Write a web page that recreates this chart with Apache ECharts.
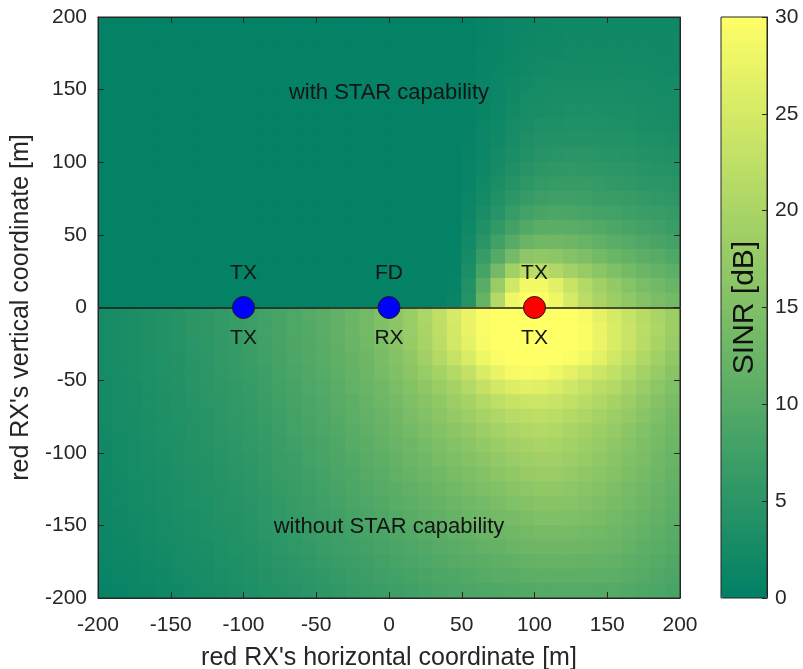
<!DOCTYPE html>
<html><head><meta charset="utf-8">
<script src="https://cdn.jsdelivr.net/npm/echarts@6/dist/echarts.min.js"></script>
<style>html,body{margin:0;padding:0;background:#fff}#c{width:803px;height:669px}</style>
</head><body><div id="c"></div>
<script>
// cell centres (m)
const xCells = [-195,-185,-175,-165,-155,-145,-135,-125,-115,-105,-95,-85,-75,-65,-55,-45,-35,-25,-15,-5,5,15,25,35,45,55,65,75,85,95,105,115,125,135,145,155,165,175,185,195];
const yCells = [195,185,175,165,155,145,135,125,115,105,95,85,75,65,55,45,35,25,15,5,-5,-15,-25,-35,-45,-55,-65,-75,-85,-95,-105,-115,-125,-135,-145,-155,-165,-175,-185,-195];

// SINR [dB], upper half: with STAR capability (rows y=195 ... 5)
const sinrUpper = [
 [0.5,0.5,0.5,0.5,0.5,0.5,0.5,0.5,0.5,0.5,0.5,0.5,0.5,0.5,0.5,0.5,0.5,0.5,0.5,0.5,0.5,0.5,0.5,0.5,0.5, 0.5,0.8,1,1.3,1.5,1.7,1.8,1.8,1.8,1.8,1.8,1.8,1.8,1.8,1.8],
 [0.5,0.5,0.5,0.5,0.5,0.5,0.5,0.5,0.5,0.5,0.5,0.5,0.5,0.5,0.5,0.5,0.5,0.5,0.5,0.5,0.5,0.5,0.5,0.5,0.5, 0.5,0.8,1,1.4,1.6,1.8,1.9,2,2,2,2,2,2,2,2],
 [0.5,0.5,0.5,0.5,0.5,0.5,0.5,0.5,0.5,0.5,0.5,0.5,0.5,0.5,0.5,0.5,0.5,0.5,0.5,0.5,0.5,0.5,0.5,0.5,0.5, 0.5,0.9,1.1,1.5,1.8,2,2.1,2.2,2.2,2.2,2.2,2.2,2.2,2.1,2],
 [0.5,0.5,0.5,0.5,0.5,0.5,0.5,0.5,0.5,0.5,0.5,0.5,0.5,0.5,0.5,0.5,0.5,0.5,0.5,0.5,0.5,0.5,0.5,0.5,0.5, 0.5,0.9,1.2,1.6,2,2.2,2.4,2.4,2.4,2.4,2.4,2.4,2.3,2.2,2.1],
 [0.5,0.5,0.5,0.5,0.5,0.5,0.5,0.5,0.5,0.5,0.5,0.5,0.5,0.5,0.5,0.5,0.5,0.5,0.5,0.5,0.5,0.5,0.5,0.5,0.5, 0.5,1,1.3,1.8,2.2,2.5,2.6,2.7,2.7,2.7,2.7,2.6,2.5,2.4,2.3],
 [0.5,0.5,0.5,0.5,0.5,0.5,0.5,0.5,0.5,0.5,0.5,0.5,0.5,0.5,0.5,0.5,0.5,0.5,0.5,0.5,0.5,0.5,0.5,0.5,0.5, 0.6,1,1.4,2,2.5,2.8,3,3,3,3,3,2.9,2.8,2.7,2.5],
 [0.5,0.5,0.5,0.5,0.5,0.5,0.5,0.5,0.5,0.5,0.5,0.5,0.5,0.5,0.5,0.5,0.5,0.5,0.5,0.5,0.5,0.5,0.5,0.5,0.5, 0.6,1.1,1.6,2.2,2.8,3.1,3.3,3.4,3.4,3.4,3.3,3.2,3.1,2.9,2.7],
 [0.5,0.5,0.5,0.5,0.5,0.5,0.5,0.5,0.5,0.5,0.5,0.5,0.5,0.5,0.5,0.5,0.5,0.5,0.5,0.5,0.5,0.5,0.5,0.5,0.5, 0.7,1.2,1.8,2.5,3.1,3.5,3.7,3.8,3.8,3.8,3.7,3.5,3.3,3.1,2.9],
 [0.5,0.5,0.5,0.5,0.5,0.5,0.5,0.5,0.5,0.5,0.5,0.5,0.5,0.5,0.5,0.5,0.5,0.5,0.5,0.5,0.5,0.5,0.5,0.5,0.5, 0.7,1.3,2,2.8,3.5,4,4.2,4.3,4.3,4.2,4.1,3.9,3.7,3.5,3.3],
 [0.5,0.5,0.5,0.5,0.5,0.5,0.5,0.5,0.5,0.5,0.5,0.5,0.5,0.5,0.5,0.5,0.5,0.5,0.5,0.5,0.5,0.5,0.5,0.5,0.5, 0.8,1.5,2.3,3.2,4,4.6,4.8,4.9,4.9,4.8,4.6,4.4,4.2,4,3.8],
 [0.5,0.5,0.5,0.5,0.5,0.5,0.5,0.5,0.5,0.5,0.5,0.5,0.5,0.5,0.5,0.5,0.5,0.5,0.5,0.5,0.5,0.5,0.5,0.5,0.5, 0.9,1.7,2.7,3.7,4.6,5.2,5.5,5.6,5.5,5.4,5.2,5,4.7,4.5,4.3],
 [0.5,0.5,0.5,0.5,0.5,0.5,0.5,0.5,0.5,0.5,0.5,0.5,0.5,0.5,0.5,0.5,0.5,0.5,0.5,0.5,0.5,0.5,0.5,0.5,0.5, 1,2,3.2,4.4,5.4,6,6.3,6.4,6.3,6.1,5.9,5.6,5.3,5,4.8],
 [0.5,0.5,0.5,0.5,0.5,0.5,0.5,0.5,0.5,0.5,0.5,0.5,0.5,0.5,0.5,0.5,0.5,0.5,0.5,0.5,0.5,0.5,0.5,0.5,0.5, 1.2,2.4,3.8,5.2,6.4,7.1,7.4,7.4,7.2,6.9,6.6,6.3,6,5.7,5.4],
 [0.5,0.5,0.5,0.5,0.5,0.5,0.5,0.5,0.5,0.5,0.5,0.5,0.5,0.5,0.5,0.5,0.5,0.5,0.5,0.5,0.5,0.5,0.5,0.5,0.5, 1.4,3,4.6,6.3,7.7,8.6,8.9,8.8,8.5,8.1,7.7,7.3,6.9,6.5,6.2],
 [0.5,0.5,0.5,0.5,0.5,0.5,0.5,0.5,0.5,0.5,0.5,0.5,0.5,0.5,0.5,0.5,0.5,0.5,0.5,0.5,0.5,0.5,0.5,0.5,0.5, 1.8,3.8,5.8,7.9,9.6,10.6,10.8,10.6,10.2,9.6,9,8.4,7.9,7.4,6.9],
 [0.5,0.5,0.5,0.5,0.5,0.5,0.5,0.5,0.5,0.5,0.5,0.5,0.5,0.5,0.5,0.5,0.5,0.5,0.5,0.5,0.5,0.5,0.5,0.5,0.5, 2.2,4.8,7.5,10.2,12.4,13.3,13.3,12.8,12.2,11.4,10.6,9.9,9.2,8.6,8],
 [0.5,0.5,0.5,0.5,0.5,0.5,0.5,0.5,0.5,0.5,0.5,0.5,0.5,0.5,0.5,0.5,0.5,0.5,0.5,0.5,0.5,0.5,0.5,0.5,0.6, 2.7,6.3,10,13.8,16.5,17,16.6,15.7,14.7,13.6,12.6,11.7,10.8,10.1,9.4],
 [0.5,0.5,0.5,0.5,0.5,0.5,0.5,0.5,0.5,0.5,0.5,0.5,0.5,0.5,0.5,0.5,0.5,0.5,0.5,0.5,0.5,0.5,0.5,0.5,0.7, 3.3,8.2,13.5,18.8,22,22,20.8,19.2,17.6,16.2,14.9,13.7,12.6,11.7,10.9],
 [0.5,0.5,0.5,0.5,0.5,0.5,0.5,0.5,0.5,0.5,0.5,0.5,0.5,0.5,0.5,0.5,0.5,0.5,0.5,0.5,0.5,0.5,0.5,0.5,0.8, 4,10.5,18,24.5,28.5,28.5,26.5,23.5,21,19,17.3,15.8,14.5,13.4,12.4],
 [0.5,0.5,0.5,0.5,0.5,0.5,0.5,0.5,0.5,0.5,0.5,0.5,0.5,0.5,0.5,0.5,0.5,0.5,0.5,0.5,0.5,0.5,0.5,0.5,1, 4.5,12,21,28,30,30,28,25,22,20,18.5,17,15.5,14.5,13.5]
];

// SINR [dB], lower half: without STAR capability (rows y=-5 ... -195)
const sinrLower = [
 [2.5,2.9,3.3,3.7,4.1,4.5,5,5.5,6,6.5,7,7.7,8.5,9.2,9.9,10.7,11.6,12.6,13.7,15,16.5,18.2,20.2,22.5,25,27.5,29.5,30,30,30,30,30,30,29,27,25,23.3,21.6,20,18.5],
 [2.5,2.9,3.3,3.7,4.1,4.5,5,5.5,6,6.5,7,7.7,8.4,9.1,9.8,10.6,11.5,12.5,13.6,14.9,16.3,18,20,22.3,24.8,27.5,29.5,30,30,30,30,30,30,29.5,27.5,25.5,23.7,21.9,20.2,18.5],
 [2.5,2.9,3.3,3.6,4,4.4,4.9,5.4,5.9,6.4,6.9,7.6,8.3,9,9.7,10.5,11.4,12.4,13.4,14.6,16,17.7,19.7,22,24.5,27,29,30,30,30,30,30,30,29.5,27.7,25.5,23.6,21.7,19.8,18],
 [2.5,2.9,3.2,3.6,3.9,4.3,4.8,5.3,5.8,6.3,6.8,7.5,8.2,8.9,9.6,10.3,11.2,12.1,13.1,14.2,15.5,17.1,19,21,23.2,25.5,28,29.5,30,30,30,30,29.5,28.5,26.7,24.5,22.6,20.7,18.8,17],
 [2.5,2.8,3.2,3.5,3.9,4.2,4.7,5.2,5.6,6.1,6.6,7.3,8,8.7,9.4,10.1,11,11.9,12.8,13.9,15,16.4,17.9,19.5,21.2,23,25.5,27.5,28.8,29.3,29,28,26.8,25.5,24.2,22.7,21,19.3,17.6,16],
 [2.4,2.7,3.1,3.4,3.8,4.1,4.6,5,5.5,5.9,6.4,7.1,7.8,8.4,9.1,9.8,10.6,11.5,12.4,13.3,14.3,15.5,16.8,18.1,19.5,21,23,24.8,26,26.5,26.3,25.5,24.4,23.2,22,21,19.5,18,16.5,15],
 [2.4,2.7,3,3.4,3.7,4,4.4,4.9,5.3,5.8,6.2,6.9,7.5,8.2,8.8,9.5,10.3,11.1,12,12.9,13.8,14.9,16,17.1,18.3,19.5,21,22.3,23.3,23.9,24,23.5,22.7,21.7,20.7,19.6,18.3,16.9,15.6,14.3],
 [2.3,2.6,2.9,3.3,3.6,3.9,4.3,4.7,5.2,5.6,6,6.6,7.3,7.9,8.6,9.2,10,10.8,11.6,12.4,13.3,14.3,15.3,16.3,17.3,18.3,19.5,20.6,21.4,22,22.3,21.9,21.2,20.3,19.4,18.5,17.3,16.1,14.9,13.7],
 [2.2,2.5,2.8,3.2,3.5,3.8,4.2,4.6,5,5.4,5.8,6.4,7,7.7,8.3,8.9,9.7,10.4,11.2,12,12.8,13.7,14.6,15.5,16.4,17.3,18.3,19.3,20.1,20.7,21,20.7,20,19.2,18.4,17.5,16.4,15.3,14.2,13.2],
 [2.1,2.4,2.7,3.1,3.4,3.7,4.1,4.5,4.8,5.2,5.6,6.2,6.8,7.4,8,8.6,9.3,10.1,10.8,11.6,12.3,13.1,13.9,14.8,15.6,16.4,17.3,18.2,19,19.6,20,19.8,19.2,18.4,17.6,16.8,15.8,14.8,13.8,12.8],
 [2,2.3,2.6,3,3.3,3.6,4,4.3,4.7,5,5.4,6,6.6,7.1,7.7,8.3,9,9.7,10.4,11.1,11.8,12.6,13.3,14.1,14.8,15.6,16.4,17.2,18,18.6,19,18.8,18.3,17.6,16.9,16.1,15.2,14.3,13.3,12.4],
 [1.9,2.2,2.5,2.8,3.1,3.4,3.8,4.1,4.5,4.8,5.2,5.8,6.3,6.9,7.4,8,8.7,9.3,10,10.6,11.3,12,12.7,13.4,14.1,14.8,15.5,16.3,17,17.6,18,17.9,17.5,16.9,16.2,15.5,14.6,13.8,12.9,12],
 [1.8,2.1,2.4,2.7,3,3.3,3.6,4,4.3,4.7,5,5.5,6.1,6.6,7.2,7.7,8.3,8.9,9.6,10.2,10.8,11.4,12.1,12.7,13.4,14,14.7,15.4,16,16.6,17,16.9,16.6,16.1,15.5,14.8,14,13.2,12.4,11.6],
 [1.7,2,2.3,2.6,2.9,3.2,3.5,3.8,4.2,4.5,4.8,5.3,5.8,6.4,6.9,7.4,8,8.6,9.2,9.7,10.3,10.9,11.5,12,12.6,13.2,13.8,14.4,15,15.6,16,16,15.8,15.4,14.8,14.2,13.5,12.7,12,11.2],
 [1.6,1.9,2.2,2.4,2.7,3,3.3,3.6,4,4.3,4.6,5.1,5.6,6.1,6.6,7.1,7.6,8.2,8.7,9.3,9.8,10.3,10.9,11.4,12,12.5,13,13.5,14,14.6,15,15,14.9,14.6,14.1,13.6,12.9,12.2,11.5,10.8],
 [1.5,1.8,2.1,2.3,2.6,2.9,3.2,3.5,3.8,4.1,4.4,4.9,5.4,5.8,6.3,6.8,7.3,7.8,8.3,8.8,9.3,9.8,10.3,10.8,11.3,11.8,12.3,12.7,13.2,13.6,14,14,13.9,13.7,13.4,13,12.4,11.7,11,10.4],
 [1.4,1.7,1.9,2.2,2.4,2.7,3,3.3,3.6,3.9,4.2,4.7,5.1,5.6,6,6.5,7,7.4,7.9,8.3,8.8,9.3,9.7,10.2,10.6,11.1,11.5,11.9,12.3,12.7,13,13,13,12.9,12.6,12.3,11.7,11.1,10.6,10],
 [1.2,1.5,1.7,2,2.2,2.5,2.8,3.1,3.4,3.7,4,4.4,4.8,5.3,5.7,6.1,6.5,7,7.4,7.9,8.3,8.7,9.1,9.6,10,10.4,10.7,11.1,11.4,11.7,12,12,12,11.9,11.8,11.6,11.1,10.6,10,9.5],
 [1,1.3,1.5,1.8,2,2.3,2.6,2.9,3.2,3.5,3.8,4.2,4.6,4.9,5.3,5.7,6.1,6.5,7,7.4,7.8,8.2,8.6,8.9,9.3,9.7,10,10.3,10.5,10.8,11,11,11,11,10.9,10.8,10.4,10,9.5,9],
 [0.8,1,1.3,1.5,1.8,2,2.3,2.6,2.9,3.2,3.5,3.9,4.2,4.6,4.9,5.3,5.7,6.1,6.5,6.9,7.3,7.6,8,8.3,8.7,9,9.2,9.4,9.6,9.8,10,10,10,10,10,10,9.6,9.3,8.9,8.5]
];

// nodes on the horizontal line
const nodeX = [-100, 0, 100];
const nodeY = [0, 0, 0];
const labelsAbove = ['TX', 'FD', 'TX'];
const labelsBelow = ['TX', 'RX', 'TX'];
const notes = ['with STAR capability', 'without STAR capability'];
const noteX = [0, 0];
const noteY = [148, -151];

// ---- styles ----
const nodeFill = ['#0000ff', '#0000ff', '#ff0000'];
const ink = '#262626';
const FONT = 'Liberation Sans, Arial, Helvetica, sans-serif';

const sinrRows = sinrUpper.concat(sinrLower);
const cellData = [];
sinrRows.forEach((row, r) => row.forEach((v, c) => cellData.push([xCells[c], yCells[r], v])));
const cellW = xCells[1] - xCells[0];
const cellH = yCells[0] - yCells[1];

const chart = echarts.init(document.getElementById('c'), null, {renderer: 'canvas'});

const axisCommon = {
  type: 'value', min: -200, max: 200, interval: 50,
  axisLine: {show: true, onZero: false, lineStyle: {color: ink, width: 1}},
  axisTick: {show: true, inside: true, length: 6, lineStyle: {color: ink}},
  splitLine: {show: false}, z: 10
};

chart.setOption({
  animation: false,
  textStyle: {fontFamily: FONT},
  grid: [
    {left: 98, top: 17, width: 582, height: 581, show: true, borderColor: ink, borderWidth: 1,
      backgroundColor: 'transparent', z: 10, containLabel: false, outerBoundsMode: 'none'},
    {left: 721, top: 17, width: 46, height: 581, show: true, borderColor: ink, borderWidth: 1,
      backgroundColor: 'transparent', z: 10, containLabel: false, outerBoundsMode: 'none'}
  ],
  xAxis: [
    Object.assign({}, axisCommon, {gridIndex: 0, position: 'bottom',
      axisLabel: {fontSize: 21, color: ink, margin: 17, fontFamily: FONT},
      name: "red RX's horizontal coordinate [m]", nameLocation: 'middle', nameGap: 48,
      nameTextStyle: {fontSize: 25, color: ink, fontFamily: FONT}}),
    Object.assign({}, axisCommon, {gridIndex: 0, position: 'top', axisLabel: {show: false}}),
    {gridIndex: 1, type: 'value', min: 0, max: 1, show: false}
  ],
  yAxis: [
    Object.assign({}, axisCommon, {gridIndex: 0, position: 'left',
      axisLabel: {fontSize: 21, color: ink, margin: 11, fontFamily: FONT},
      name: "red RX's vertical coordinate [m]", nameLocation: 'middle', nameGap: 57,
      nameTextStyle: {fontSize: 25, color: ink, fontFamily: FONT}}),
    Object.assign({}, axisCommon, {gridIndex: 0, position: 'right', axisLabel: {show: false}}),
    {gridIndex: 1, type: 'value', min: 0, max: 30, interval: 5, position: 'right', z: 10,
      axisLine: {show: true, onZero: false, lineStyle: {color: ink}},
      axisTick: {show: true, inside: true, length: 5, lineStyle: {color: ink}},
      axisLabel: {fontSize: 21, color: ink, margin: 8, fontFamily: FONT},
      splitLine: {show: false},
      name: 'SINR [dB]', nameLocation: 'middle', nameGap: -37, nameRotate: 90,
      nameTextStyle: {fontSize: 30, color: '#111', fontFamily: FONT}}
  ],
  visualMap: {
    type: 'continuous', min: 0, max: 30, dimension: 2, seriesIndex: 0,
    calculable: false, orient: 'vertical', left: 721, top: 17, padding: 0,
    itemWidth: 46, itemHeight: 581, text: null, hoverLink: false, z: 2,
    inRange: {color: ['#008066', '#ffff66']}
  },
  series: [
    {
      type: 'custom', xAxisIndex: 0, yAxisIndex: 0, clip: true, silent: true,
      encode: {x: 0, y: 1},
      data: cellData,
      renderItem: function (params, api) {
        const c = api.coord([api.value(0), api.value(1)]);
        const s = api.size([cellW, cellH]);
        return {type: 'rect',
          shape: {x: c[0] - s[0] / 2 - 0.4, y: c[1] - s[1] / 2 - 0.4, width: s[0] + 0.8, height: s[1] + 0.8},
          style: {fill: api.visual('color')}};
      },
      markLine: {silent: true, symbol: 'none', label: {show: false},
        lineStyle: {color: '#1a1a1a', width: 1.5, type: 'solid'},
        data: [{yAxis: 0}]},
      z: 2
    },
    {
      type: 'scatter', xAxisIndex: 0, yAxisIndex: 0, symbolSize: 22, z: 5, silent: true,
      data: nodeX.map((x, i) => ({value: [x, nodeY[i]], itemStyle: {color: nodeFill[i]}})),
      itemStyle: {borderColor: '#1a1a1a', borderWidth: 1, opacity: 1},
      label: {show: false}
    },
    {type: 'scatter', xAxisIndex: 2, yAxisIndex: 2, data: []}
  ]
});

// text annotations placed through the axes' scales
function placeTexts() {
  const els = [];
  const txt = (p, s, dy, size) => ({
    type: 'text', x: p[0], y: p[1] + dy, z: 50, silent: true,
    style: {text: s, fill: '#141414', font: size + 'px ' + FONT, align: 'center', verticalAlign: 'middle'}
  });
  nodeX.forEach((x, i) => {
    const p = chart.convertToPixel({xAxisIndex: 0, yAxisIndex: 0}, [x, nodeY[i]]);
    els.push(txt(p, labelsAbove[i], -34, 21));
    els.push(txt(p, labelsBelow[i], 31, 21));
  });
  noteX.forEach((x, i) => {
    const p = chart.convertToPixel({xAxisIndex: 0, yAxisIndex: 0}, [x, noteY[i]]);
    els.push(txt(p, notes[i], 0, 22));
  });
  chart.setOption({graphic: els});
}
placeTexts();
</script>
</body></html>
